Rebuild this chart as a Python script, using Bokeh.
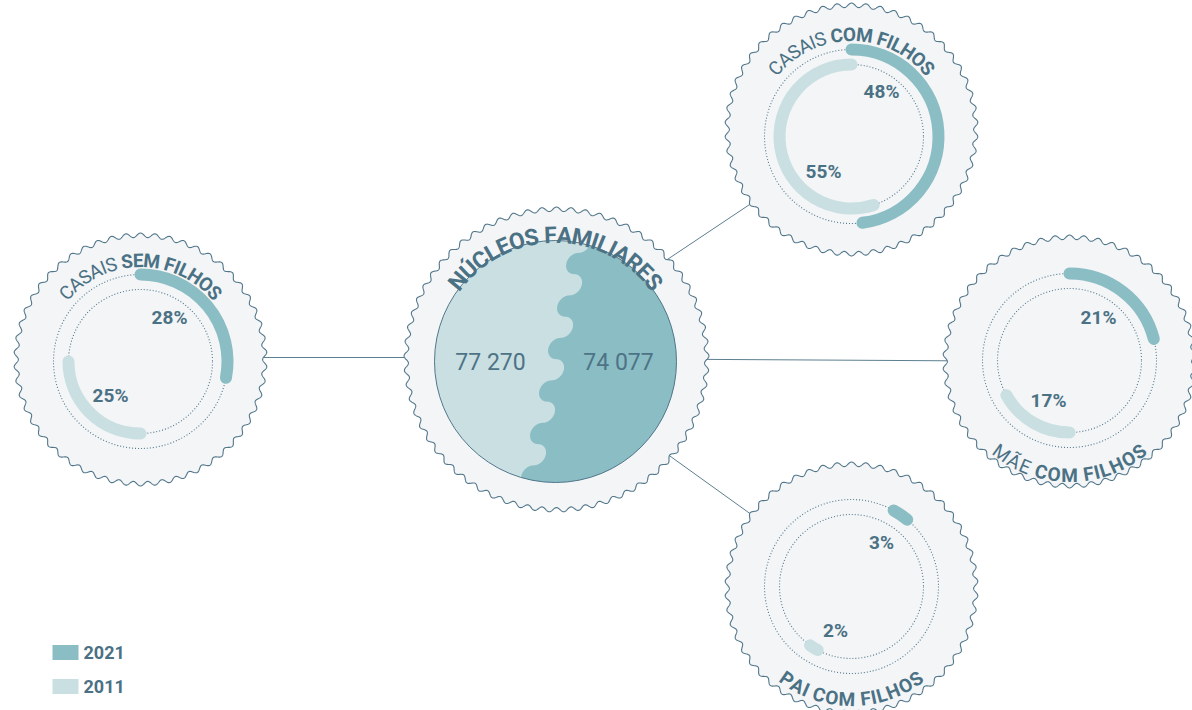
import numpy as np
from bokeh.plotting import figure
from bokeh.models import Range1d
from bokeh.core.properties import value
from bokeh.embed import file_html
from bokeh.resources import INLINE

# ---------------- DATA ----------------
categories = ["CASAIS SEM FILHOS", "CASAIS COM FILHOS", "MÃE COM FILHOS", "PAI COM FILHOS"]
title_regular = ["CASAIS ", "CASAIS ", "MÃE ", ""]
title_bold = ["SEM FILHOS", "COM FILHOS", "COM FILHOS", "PAI COM FILHOS"]
pct_2021 = [28, 48, 21, 3]
pct_2011 = [25, 55, 17, 2]
years = ["2021", "2011"]
nucleos_2021 = 74077
nucleos_2011 = 77270
main_title = "NÚCLEOS FAMILIARES"

# ---------------- STYLE / LAYOUT ----------------
H = 710
DARK = "#8bbdc4"
LIGHT = "#c9dfe1"
TXT = "#4b7184"
EDGE = "#52778b"
BG = "#f3f5f7"
FONT = value("Roboto")

def Y(sy):
    return H - np.asarray(sy, dtype=float)

ring_cx = [140, 851, 1069, 851]
ring_cy = [361, 136, 360, 586]
scal_cy = [359, 129, 361, 588]
scal_R = 124.3
title_where = ["top", "top", "bottom", "bottom"]
title_rb = [101, 102, 115, 113]
R_OUT, R_IN = 87, 72
start21 = [0, 0, 0, 29]       # degrees clockwise from 12 o'clock
start11 = [0, -18, 0, 28]     # degrees clockwise from 6 o'clock
lab21 = [(29, -44), (30, -45), (29, -43), (30, -44)]
lab11 = [(-30, 34), (-28, 35), (-21, 40), (-16, 44)]

C_CX, C_CY, C_R = 556, 359, 150.3    # central scallop
D_CX, D_CY, D_R = 555, 361, 121      # central disc

p = figure(width=1192, height=710, x_range=Range1d(0, 1192), y_range=Range1d(0, 710),
           output_backend="svg", toolbar_location=None, min_border=0)
p.axis.visible = False
p.grid.visible = False
p.outline_line_color = None
p.background_fill_color = "white"
p.border_fill_color = "white"

# connectors
conn = [((556, 357), (140, 357)), ((556, 358), (1069, 361)),
        ((556, 333), (851, 136)), ((556, 374), (851, 586))]
for (a, b) in conn:
    p.line([a[0], b[0]], Y([a[1], b[1]]), line_color="#5d7f90", line_width=1)

def scallop(cx, cy, R, n, amp=2.2):
    t = np.linspace(0, 2 * np.pi, n * 32 + 1)
    r = R + amp * np.cos(n * t)
    return cx + r * np.sin(t), Y(cy - r * np.cos(t))

PERIOD = 14.5
for i in range(4):
    n = int(round(2 * np.pi * scal_R / PERIOD))
    xs, ys = scallop(ring_cx[i], scal_cy[i], scal_R, n)
    p.patch(xs, ys, fill_color=BG, line_color=EDGE, line_width=1.1)

n = int(round(2 * np.pi * C_R / PERIOD))
xs, ys = scallop(C_CX, C_CY, C_R, n)
p.patch(xs, ys, fill_color=BG, line_color=EDGE, line_width=1.1)

# central disc: light (2011) full, dark (2021) right part with wavy split
p.circle(x=[D_CX], y=Y([D_CY]), radius=D_R, fill_color=LIGHT, line_color=None)
ysr = np.linspace(D_CY - D_R + 1e-4, D_CY + D_R - 1e-4, 1600)
half = np.sqrt(np.clip(D_R ** 2 - (ysr - D_CY) ** 2, 0, None))
xl, xr = D_CX - half, D_CX + half
P_, A_ = 42.5, 10.0
b_ = P_ / 4
y0 = 263
k = np.floor((ysr - (y0 - b_)) / (2 * b_))
yk = y0 + k * 2 * b_
sgn = np.where(k % 2 == 0, -1.0, 1.0)
u = (ysr - yk) / b_
mline = 573.5 - 0.212 * (ysr - 274)
xw = mline + sgn * A_ * np.sqrt(np.clip(1 - u ** 2, 0, 1))
xleft = np.clip(xw, xl, xr)
px = np.concatenate([xleft, xr[::-1]])
py = np.concatenate([ysr, ysr[::-1]])
p.patch(px, Y(py), fill_color=DARK, line_color=None)
p.circle(x=[D_CX], y=Y([D_CY]), radius=D_R, fill_color=None, line_color=EDGE, line_width=1)

def fmt(v):
    return f"{v:,}".replace(",", " ")

p.text(x=[490], y=Y([362]), text=[fmt(nucleos_2011)], text_font=FONT, text_font_size="23px",
       text_color="#4e7386", text_align="center", text_baseline="middle")
p.text(x=[618], y=Y([362]), text=[fmt(nucleos_2021)], text_font=FONT, text_font_size="23px",
       text_color="#4e7386", text_align="center", text_baseline="middle")

# rings
for i in range(4):
    cx, cy = ring_cx[i], Y(ring_cy[i])
    for r in (R_OUT, R_IN):
        p.circle(x=[cx], y=[cy], radius=r, fill_color=None, line_color=EDGE,
                 line_width=1.1, line_dash="1 2")
    s0 = -np.pi / 2 - np.radians(start11[i])
    e0 = s0 - pct_2011[i] / 100 * 2 * np.pi
    p.arc(x=[cx], y=[cy], radius=R_IN, start_angle=e0, end_angle=s0, direction="anticlock",
          line_color=LIGHT, line_width=12, line_cap="round")
    s1 = np.pi / 2 - np.radians(start21[i])
    e1 = s1 - pct_2021[i] / 100 * 2 * np.pi
    p.arc(x=[cx], y=[cy], radius=R_OUT, start_angle=e1, end_angle=s1, direction="anticlock",
          line_color=DARK, line_width=12, line_cap="round")
    p.text(x=[ring_cx[i] + lab21[i][0]], y=Y([ring_cy[i] + lab21[i][1]]), text=[f"{pct_2021[i]}%"],
           text_font=FONT, text_font_size="19px", text_font_style="bold", text_color=TXT,
           text_align="center", text_baseline="middle")
    p.text(x=[ring_cx[i] + lab11[i][0]], y=Y([ring_cy[i] + lab11[i][1]]), text=[f"{pct_2011[i]}%"],
           text_font=FONT, text_font_size="19px", text_font_style="bold", text_color=TXT,
           text_align="center", text_baseline="middle")

W_REG = {"A": .652, "C": .651, "E": .568, "F": .553, "H": .696, "I": .266, "L": .537, "M": .852,
         "N": .696, "O": .671, "P": .631, "R": .615, "S": .594, "U": .633, " ": .248}
W_BOLD = {"A": .66, "C": .655, "E": .57, "F": .556, "H": .712, "I": .29, "L": .54, "M": .872,
          "N": .71, "O": .688, "P": .636, "R": .63, "S": .614, "U": .66, " ": .246}
BASE = {"Ã": "A", "Ú": "U"}

def curved(segments, cx, cy, rb, rs, size, where):
    chars = []
    for txt, bold in segments:
        for ch in txt:
            tb = W_BOLD if bold else W_REG
            chars.append((ch, bold, tb.get(BASE.get(ch, ch), 0.6) * size))
    total = sum(c[2] for c in chars)
    s = 0.0
    out = {True: ([], [], [], []), False: ([], [], [], [])}
    for ch, bold, w in chars:
        mid = s + w / 2 - total / 2
        s += w
        if ch == " ":
            continue
        th = mid / rs
        if where == "top":
            x = cx + rb * np.sin(th); sy = cy - rb * np.cos(th); ang = -th
        else:
            x = cx + rb * np.sin(th); sy = cy + rb * np.cos(th); ang = th
        o = out[bold]
        o[0].append(x); o[1].append(float(Y(sy))); o[2].append(ch); o[3].append(ang)
    for bold, (xx, yy, tt, aa) in out.items():
        if tt:
            p.text(x=xx, y=yy, text=tt, angle=aa, text_font=FONT, text_font_size=f"{size}px",
                   text_font_style="bold" if bold else "normal", text_color=TXT,
                   text_align="center", text_baseline="alphabetic")

for i in range(4):
    segs = []
    if title_regular[i]:
        segs.append((title_regular[i], False))
    segs.append((title_bold[i], True))
    if title_where[i] == "top":
        curved(segs, ring_cx[i], ring_cy[i], title_rb[i], 101, 19, "top")
    else:
        curved(segs, ring_cx[i], ring_cy[i], title_rb[i], 110, 19, "bottom")

curved([(main_title, True)], D_CX, D_CY, 126, 126, 23, "top")

# legend
leg_colors = [DARK, LIGHT]
leg_y = [652, 686]
for yr, col, ly in zip(years, leg_colors, leg_y):
    p.quad(left=[52], right=[78], top=Y([ly - 7.5]), bottom=Y([ly + 7.5]), fill_color=col, line_color=None)
    p.text(x=[83], y=Y([ly]), text=[yr], text_font=FONT, text_font_size="18px", text_font_style="bold",
           text_color=TXT, text_align="left", text_baseline="middle")

open("out.html", "w").write(file_html(p, INLINE))
